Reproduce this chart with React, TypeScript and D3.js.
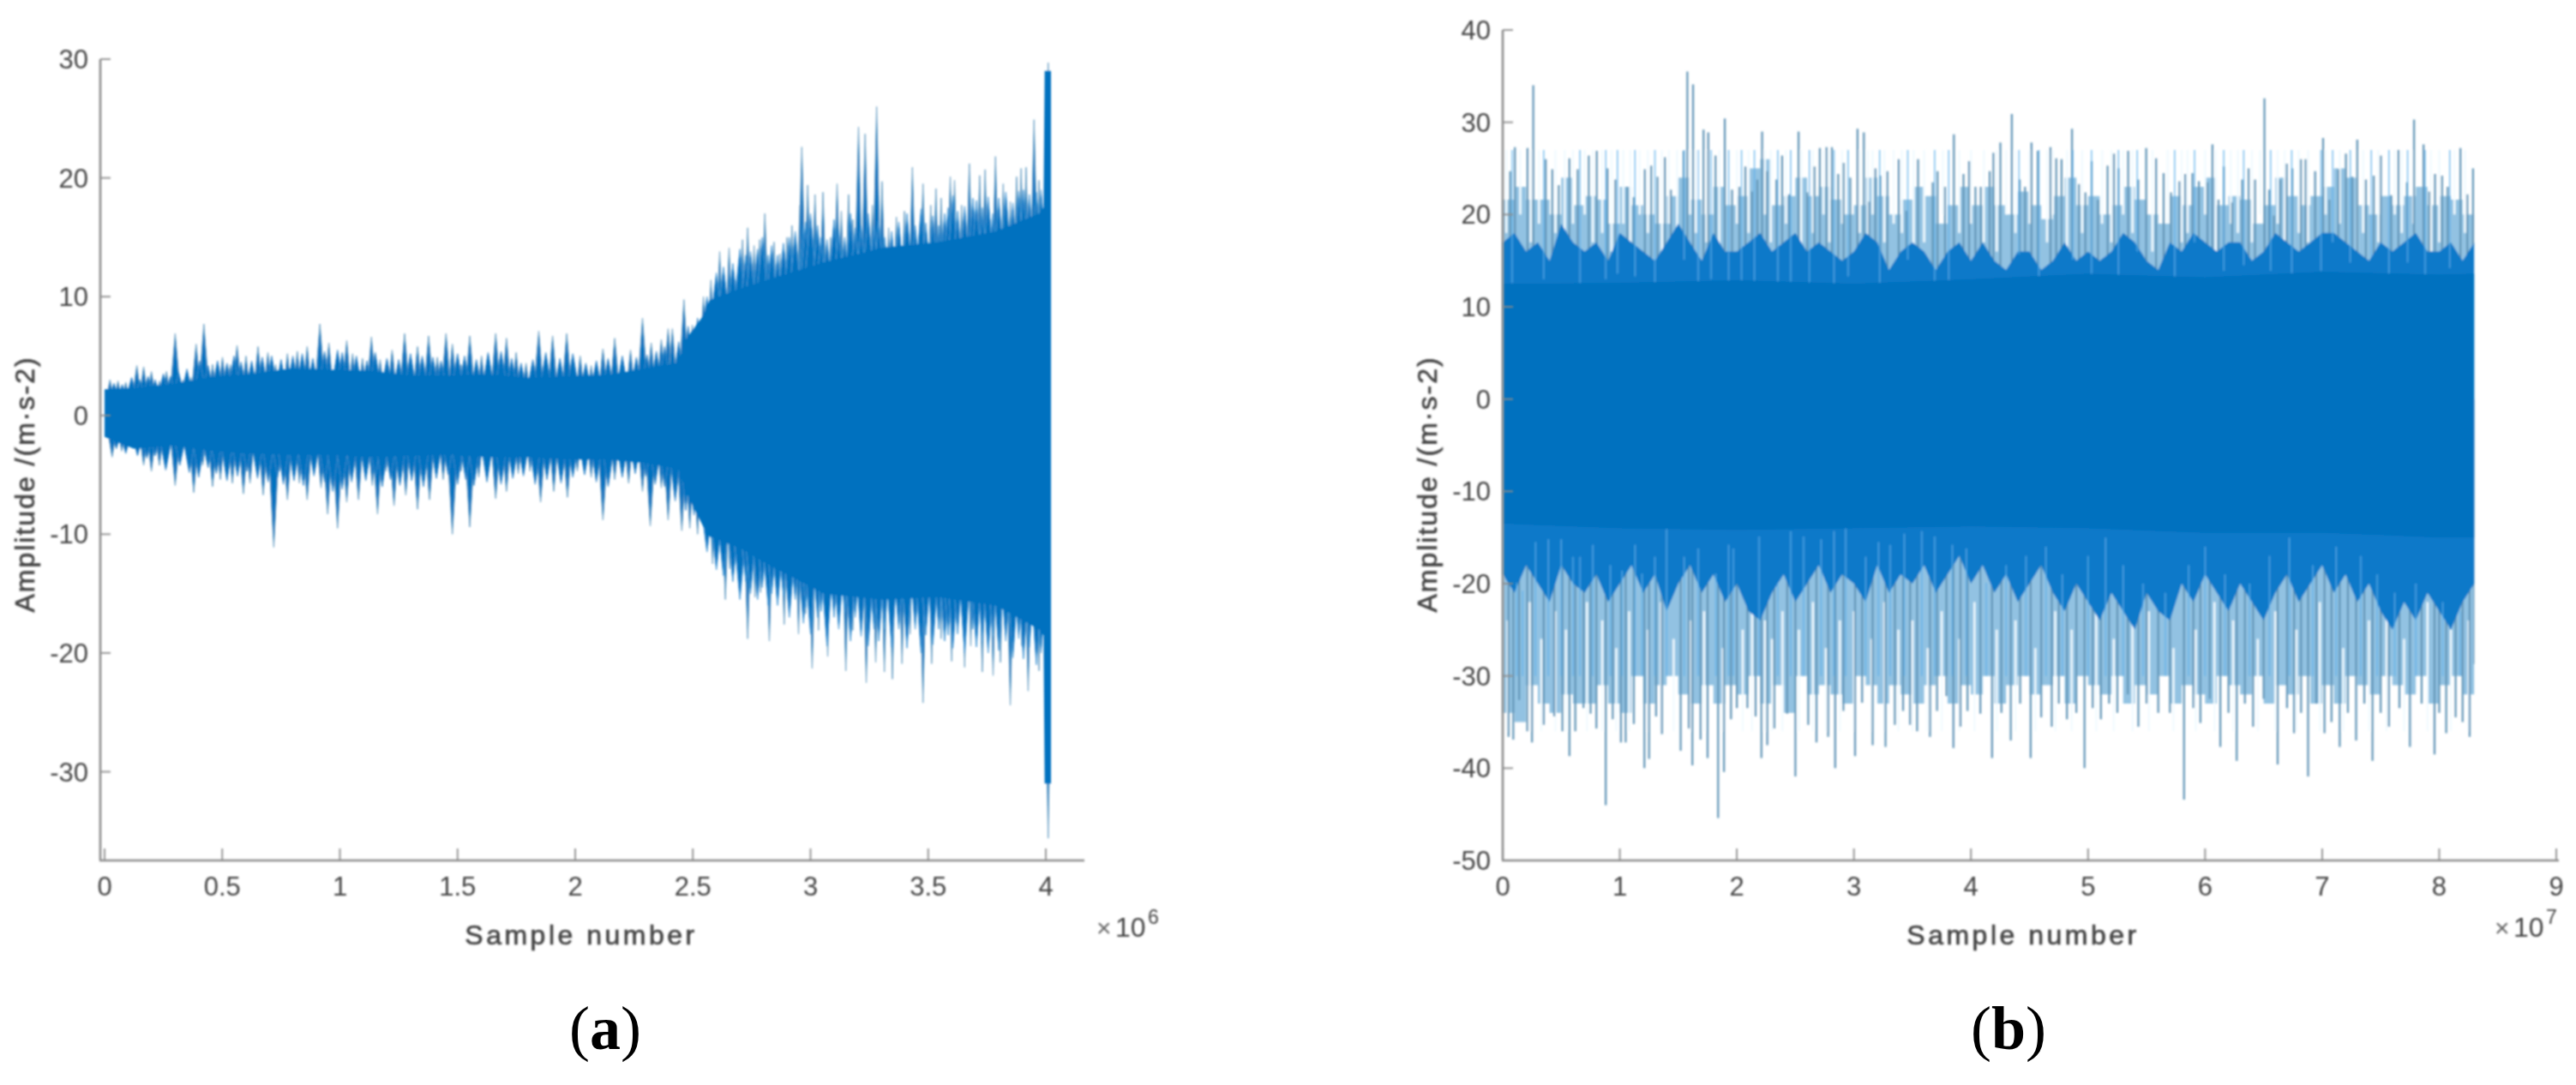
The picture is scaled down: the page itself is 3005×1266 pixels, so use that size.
import React from "react";
import * as d3 from "d3";

// ---------- Panel (a): sample number in units of 1e6, amplitude in m/s^2 ----------
const aXTicks = [0, 0.5, 1, 1.5, 2, 2.5, 3, 3.5, 4];
const aYTicks = [30, 20, 10, 0, -10, -20, -30];
const aDataEnd = 4.022;
const aCoreX = [0, 0.124, 0.291, 0.459, 0.627, 0.794, 0.962, 1.13, 1.297, 1.465, 1.63, 1.8, 1.97, 2.135, 2.3, 2.44, 2.47, 2.54, 2.571, 2.705, 2.815, 3.058, 3.302, 3.545, 3.788, 3.971, 3.99, 3.995, 4.022];
const aCoreHi = [2.2, 2.3, 2.65, 3.25, 3.5, 3.95, 3.85, 3.75, 3.35, 3.35, 3.45, 3.15, 3.3, 3.4, 3.95, 4.45, 6.4, 8.3, 9.7, 10.7, 11.4, 12.9, 14.1, 14.6, 15.5, 17, 17.5, 29, 29];
const aCoreLo = [-1.8, -2.8, -2.5, -3, -3.2, -3.3, -3.3, -3.5, -3.4, -3.3, -3.5, -3.5, -3.7, -3.7, -4, -4.5, -6.4, -9.2, -10.2, -11.2, -12.5, -15, -15.5, -15.3, -16, -18, -18.5, -31, -31];
const aTopX = [0.023, 0.057, 0.09, 0.137, 0.166, 0.199, 0.233, 0.263, 0.3, 0.333, 0.367, 0.389, 0.422, 0.459, 0.501, 0.534, 0.563, 0.601, 0.652, 0.694, 0.727, 0.777, 0.819, 0.861, 0.915, 0.953, 1.029, 1.054, 1.096, 1.134, 1.171, 1.222, 1.275, 1.33, 1.377, 1.414, 1.451, 1.478, 1.515, 1.552, 1.602, 1.662, 1.708, 1.749, 1.791, 1.845, 1.904, 1.964, 2.021, 2.068, 2.118, 2.168, 2.235, 2.286, 2.323, 2.366,
  2.395, 2.413, 2.462, 2.498, 2.545, 2.577, 2.614, 2.635, 2.654, 2.681, 2.711, 2.733, 2.76, 2.784, 2.806, 2.845, 2.87, 2.9, 2.921, 2.955, 2.963, 2.988, 3.019, 3.053, 3.085, 3.113, 3.131, 3.162, 3.18, 3.204, 3.232, 3.263, 3.281, 3.304, 3.332, 3.365, 3.399, 3.433, 3.46, 3.478, 3.511, 3.533, 3.555, 3.594, 3.612, 3.642, 3.675, 3.719, 3.742, 3.764, 3.786, 3.819, 3.849, 3.876, 3.895, 3.916, 3.95, 3.971, 4.01];
const aTopV = [3, 2.9, 2.8, 4.2, 4.1, 3.7, 2.9, 3.7, 6.9, 3, 3.2, 6, 7.7, 4.3, 4.9, 4.3, 5.9, 5, 5.8, 5.3, 4.3, 5.2, 5.4, 5.8, 7.7, 6.1, 6.3, 5.2, 4.8, 6.6, 4.7, 5.5, 6.9, 5.8, 6.7, 4.9, 6.9, 6, 4.3, 6.7, 5, 6.9, 6.5, 5.3, 4.4, 7.1, 6.7, 6.9, 5, 4.2, 5.6, 6.5, 5.5, 8.2, 6.1, 6.4,
  7.3, 7.3, 9.75, 7.6, 10, 11.4, 13.8, 11.6, 14.1, 11.4, 14.8, 15.8, 14.3, 14.8, 17, 14.6, 13.6, 15, 16, 17.7, 22.6, 19.4, 18.6, 18.8, 15, 19.5, 17.2, 18.6, 16.5, 24.3, 23.7, 17.7, 26, 19.7, 15.8, 16.7, 17.2, 20.9, 15, 19.5, 17.7, 19.1, 18.3, 20.1, 19.8, 17.7, 21.2, 20.2, 20.7, 16.5, 21.8, 19.5, 18, 20.1, 20.8, 20.9, 24.9, 19.8, 29.7];
const aBotX = [0.032, 0.073, 0.115, 0.166, 0.199, 0.233, 0.3, 0.35, 0.379, 0.417, 0.459, 0.492, 0.543, 0.59, 0.618, 0.674, 0.719, 0.744, 0.777, 0.828, 0.861, 0.92, 0.948, 0.99, 1.029, 1.079, 1.138, 1.16, 1.196, 1.23, 1.28, 1.33, 1.381, 1.439, 1.478, 1.515, 1.552, 1.59, 1.662, 1.708, 1.758, 1.808, 1.853, 1.909, 1.967, 2.009, 2.068, 2.118, 2.168, 2.227, 2.286, 2.319, 2.366, 2.395, 2.453, 2.487, 2.52,
  2.559, 2.584, 2.638, 2.657, 2.693, 2.733, 2.764, 2.788, 2.825, 2.861, 2.888, 2.912, 2.949, 2.979, 3.007, 3.034, 3.073, 3.107, 3.15, 3.18, 3.237, 3.277, 3.314, 3.348, 3.389, 3.423, 3.478, 3.515, 3.555, 3.6, 3.655, 3.681, 3.73, 3.776, 3.807, 3.849, 3.898, 3.925, 3.971, 4.01];
const aBotV = [-3.5, -3, -2.5, -4.2, -4.7, -4.2, -5.9, -3.5, -6.5, -4.2, -6, -5.4, -5.7, -6.6, -5.7, -6.7, -11.1, -4.7, -7.1, -5.7, -7.1, -6.1, -8.3, -9.5, -7.3, -7.1, -5.9, -8.3, -4.7, -7.6, -6.7, -7.9, -7.1, -5.4, -10, -4.7, -9.4, -5.2, -7, -6.4, -4.9, -4.7, -7.3, -6.4, -6.9, -4.7, -5.2, -8.8, -5.4, -5.7, -6.4, -9.3, -6.1, -8.8, -9.7, -9.5, -10,
  -11.2, -12.5, -15.5, -12.9, -12.4, -18.8, -15.3, -14.9, -19, -14.8, -17.6, -16.2, -18.4, -16.7, -21.3, -18.1, -20.3, -15.8, -21.5, -18.1, -22.5, -20.8, -21.6, -22.2, -20.9, -18.4, -24.2, -20.9, -18.8, -20.7, -21.2, -19.4, -21.6, -21.9, -20.8, -24.4, -19.4, -23.2, -21.5, -35.6];
// shorter in-between teeth of the waveform's envelope
const aTop2X = [0.04, 0.075, 0.115, 0.15, 0.185, 0.215, 0.25, 0.28, 0.315, 0.35, 0.405, 0.44, 0.48, 0.52, 0.55, 0.58, 0.625, 0.67, 0.71, 0.75, 0.8, 0.84, 0.885, 0.935, 0.99, 1.01, 1.07, 1.115, 1.15, 1.2, 1.25, 1.3, 1.35, 1.395, 1.43, 1.5, 1.53, 1.58, 1.63, 1.685, 1.73, 1.77, 1.82, 1.875, 1.935, 1.99, 2.045, 2.09, 2.14, 2.2, 2.26, 2.305, 2.345, 2.38, 2.44, 2.48, 2.52];
const aTop2V = [2.7, 2.6, 3.2, 3, 3.3, 3, 3.5, 3.3, 3.6, 3.9, 4.6, 4.2, 4.6, 4.4, 5, 4.5, 4.6, 4.9, 5, 4.7, 5, 5.2, 4.8, 5.4, 5.5, 5.3, 5, 4.6, 5.3, 4.8, 4.7, 5.2, 5, 4.9, 4.6, 5.2, 5, 4.7, 5.3, 5.4, 4.8, 4.4, 4.7, 5.3, 4.8, 5.2, 4.4, 4.6, 4.8, 5, 4.9, 5.1, 5.4, 5.8, 6.2, 7.5, 8.2];
const aBot2X = [0.05, 0.09, 0.14, 0.18, 0.215, 0.26, 0.32, 0.36, 0.4, 0.44, 0.475, 0.52, 0.565, 0.605, 0.65, 0.695, 0.735, 0.76, 0.805, 0.845, 0.89, 0.935, 0.97, 1.01, 1.05, 1.11, 1.15, 1.18, 1.215, 1.255, 1.305, 1.355, 1.41, 1.46, 1.5, 1.535, 1.57, 1.625, 1.685, 1.735, 1.78, 1.83, 1.88, 1.94, 1.99, 2.04, 2.09, 2.14, 2.2, 2.255, 2.3, 2.34, 2.38, 2.425, 2.47, 2.505, 2.54];
const aBot2V = [-2.8, -3.2, -3.4, -3.6, -3.4, -4.6, -4.2, -4.8, -5.2, -4.4, -4.9, -5.5, -5.1, -4.7, -5.3, -5.6, -5.2, -5.8, -5.5, -5.9, -5.1, -5.6, -6.4, -6.2, -5.6, -5.5, -5.2, -6, -5.4, -5.9, -5.5, -6, -5.3, -5, -5.8, -5.4, -5.9, -5.6, -5.8, -5.3, -5.1, -5.8, -5.4, -5.7, -5.2, -5, -5.6, -6, -5.2, -4.9, -5.1, -5.8, -6, -7.2, -8, -8.4, -8.8];
const aEdgeX = [2.56, 2.6, 2.63, 2.67, 2.7, 2.725, 2.745, 2.775, 2.795, 2.82, 2.835, 2.86, 2.885, 2.91, 2.935, 2.97, 2.98, 3, 3.03, 3.045, 3.07, 3.1, 3.12, 3.145, 3.17, 3.19, 3.215, 3.245, 3.27, 3.29, 3.315, 3.345, 3.375, 3.41, 3.445, 3.47, 3.49, 3.52, 3.545, 3.57, 3.585, 3.605, 3.625, 3.655, 3.69, 3.705, 3.73, 3.755, 3.775, 3.8, 3.83, 3.86, 3.885, 3.905, 3.93, 3.96, 3.98];
const aEdgeTop = [10, 12, 12.5, 12.8, 14, 13.5, 13.8, 14, 15, 13.5, 14.3, 13.5, 14.5, 15, 15.5, 16, 16.3, 17, 16, 15, 14.8, 16.5, 15.6, 15, 17, 15.8, 16, 17, 16, 16.4, 15, 15.5, 16.3, 17, 16, 17.4, 16.2, 16.8, 16, 17, 17.5, 18.5, 17.2, 17.6, 18.3, 18.1, 17.5, 18.4, 17, 18.3, 18.8, 17.9, 18.9, 19, 18.6, 18.8, 19];
const aEdgeBot = [-11.5, -13, -13.5, -14, -15.5, -14, -15, -15.5, -14.5, -16, -15, -16, -15.2, -17, -15.5, -17.5, -16.2, -18.4, -17, -16.5, -19.4, -17, -18, -16.6, -19, -17, -18.6, -19.4, -18, -19, -18, -19.5, -18, -19.6, -18, -20, -18.5, -19.3, -18, -19, -18.5, -19.6, -18.4, -20, -18, -19.5, -19, -20, -18.6, -19.8, -19, -20.4, -18.8, -20.5, -19.5, -21, -20];

// ---------- Panel (b): sample number in units of 1e7, amplitude in m/s^2 ----------
const bXTicks = [0, 1, 2, 3, 4, 5, 6, 7, 8, 9];
const bYTicks = [40, 30, 20, 10, 0, -10, -20, -30, -40, -50];
const bDataEnd = 8.3;
const bCoreX = [0, 1, 2, 3, 4, 5, 6, 7, 8, 8.3];
const bCoreHi = [12.5, 12.6, 12.9, 12.5, 13, 13.6, 13.2, 13.8, 13.5, 13.6];
const bCoreLo = [-13.5, -14, -14.2, -14, -13.8, -14, -14.5, -14.5, -15, -15];
const bBandX = d3.range(84).map((i) => i / 10);
const bMidHi = [17, 18, 16, 17, 15, 19, 17, 16, 17, 15, 18, 17, 16, 15, 17, 19, 17, 15, 18, 16, 16, 17, 18, 16, 17, 18, 16, 17, 16, 15, 16, 18, 17, 14, 16, 17, 16, 14, 16, 17, 15, 17, 15, 14, 16, 16, 14, 15, 17, 15, 16, 15, 16, 18, 17, 15, 14, 17, 16, 18, 17, 16, 17, 17, 15, 16, 18, 17, 16, 17, 18, 18, 17, 16, 15, 17, 16, 17, 18, 16, 16, 17, 15, 17];
const bMidLo = [-19, -21, -18, -20, -22, -18, -20, -21, -19, -22, -20, -18, -21, -19, -23, -20, -18, -21, -19, -22, -20, -23, -24, -21, -19, -22, -20, -18, -21, -19, -20, -22, -18, -21, -19, -20, -18, -21, -19, -17, -20, -18, -21, -19, -22, -20, -18, -21, -23, -20, -22, -24, -21, -23, -25, -21, -23, -24, -20, -22, -19, -21, -23, -20, -22, -24, -21, -19, -22, -20, -18, -21, -19, -22, -20, -23, -25, -22, -24, -21, -23, -25, -22, -20];
const bLightHi = [21.6, 23, 21.6, 21.6, 20, 24, 21, 22, 21.6, 19, 23, 21, 20, 19, 22, 24, 21.6, 20, 23, 21, 22, 25, 26, 21, 22, 24, 22, 23, 21.6, 20, 21, 24, 22, 20, 21.6, 23, 22, 19, 21, 23, 21, 23, 21, 20, 22.5, 21, 19.5, 22, 24, 21, 22, 20, 21, 23, 21.6, 20, 19, 22, 21, 23, 24, 21, 22, 21.6, 19, 21, 24, 22, 21, 22, 23, 25, 24, 21, 20, 22, 21, 22, 23, 21, 22, 21.6, 20, 21.6];
const bLightLo = [-34, -35, -31, -33, -34, -32, -33, -33, -31, -33, -34, -30, -33, -31, -30, -32, -33, -31, -33, -31, -32, -30, -33, -31, -34, -30, -32, -31, -32, -33, -30, -31, -33, -31, -32, -33, -31, -30, -33, -31, -32, -30, -33, -31, -30, -32, -31, -30, -33, -30, -31, -32, -30, -33, -31, -32, -30, -33, -31, -32, -33, -30, -31, -32, -30, -33, -31, -32, -30, -33, -31, -33, -30, -31, -32, -30, -31, -32, -30, -33, -31, -30, -32, -31];
const bTopX = [0.063, 0.104, 0.212, 0.261, 0.367, 0.424, 0.478, 0.57, 0.64, 0.735, 0.803, 0.895, 0.962, 1.065, 1.119, 1.214, 1.268, 1.322, 1.385, 1.436, 1.545, 1.577, 1.626, 1.715, 1.756, 1.818, 1.897, 1.959, 2.021, 2.073, 2.129, 2.175, 2.216, 2.257, 2.338, 2.387, 2.446, 2.527, 2.601, 2.663, 2.709, 2.766, 2.812, 2.866, 2.912, 2.969, 3.031, 3.085, 3.131, 3.183, 3.226, 3.286, 3.383, 3.448, 3.548, 3.673, 3.714, 3.778, 3.854, 3.936, 3.984, 4.038, 4.084, 4.16,
  4.192, 4.251, 4.349, 4.416, 4.462, 4.517, 4.571, 4.679, 4.728, 4.774, 4.863, 4.923, 4.977, 5.031, 5.085, 5.167, 5.221, 5.261, 5.343, 5.429, 5.497, 5.581, 5.646, 5.708, 5.781, 5.83, 5.892, 5.947, 6.02, 6.063, 6.114, 6.16, 6.231, 6.317, 6.372, 6.426, 6.507, 6.548, 6.588, 6.642, 6.697, 6.745, 6.818, 6.859, 6.94, 7.008, 7.062, 7.138, 7.203, 7.257, 7.3, 7.373, 7.441, 7.501, 7.59, 7.652, 7.725, 7.785, 7.866, 7.915, 7.964, 8.024, 8.072, 8.181, 8.24, 8.289];
const bTopV = [24.7, 27.3, 27.2, 34, 26, 24.9, 23.2, 26.1, 24.9, 26.4, 26.9, 25, 23.8, 23, 21.9, 24.9, 25.3, 24.1, 26.2, 22.7, 26.9, 35.5, 34.1, 29.2, 28.9, 26.4, 30.4, 22.7, 23, 25.2, 22.5, 23.8, 29, 24.7, 23.8, 26.4, 22.2, 29, 22.4, 25.2, 27.2, 27.3, 27.3, 24.4, 25.6, 24, 29.3, 28.9, 21.4, 25, 24.2, 24.7, 26, 20.4, 26, 23.5, 24.7, 23, 28.7, 24.4, 25.8, 23, 23, 24.7,
  26.7, 27.8, 30.9, 23.8, 23, 27.8, 26.9, 27.3, 26.1, 26, 29.3, 23.3, 22.4, 25.8, 21.6, 25.3, 26.6, 25, 26.9, 23.8, 27.2, 26.1, 24.5, 22.4, 23.6, 24.4, 24.5, 23.6, 23.5, 27.6, 21.6, 25.2, 21.3, 23.8, 25, 23.8, 32.6, 22.7, 19.9, 23.8, 25.5, 25, 26, 26, 24.7, 28.3, 21.6, 24.9, 26.6, 24.1, 28.1, 23.8, 24.2, 26.4, 22.1, 27, 23.5, 30.3, 27.6, 22.5, 24.4, 24.2, 23, 27.2, 22.2, 25];
const bBotX = [0.05, 0.09, 0.14, 0.21, 0.25, 0.35, 0.44, 0.51, 0.57, 0.62, 0.69, 0.75, 0.8, 0.88, 0.94, 1.01, 1.05, 1.12, 1.21, 1.25, 1.31, 1.36, 1.52, 1.59, 1.62, 1.69, 1.75, 1.84, 1.89, 1.95, 2, 2.09, 2.16, 2.21, 2.26, 2.32, 2.43, 2.5, 2.61, 2.68, 2.78, 2.84, 2.91, 3.01, 3.07, 3.16, 3.27, 3.35, 3.42, 3.48, 3.54, 3.65, 3.71, 3.79, 3.85, 3.91, 3.97, 4.08,
  4.18, 4.34, 4.51, 4.69, 4.82, 4.97, 5.11, 5.25, 5.43, 5.6, 5.82, 5.96, 6.13, 6.27, 6.41, 6.62, 6.76, 6.88, 7.02, 7.15, 7.29, 7.43, 7.57, 7.75, 7.96, 8.06, 8.26, 8.3,
  4.26, 4.42, 4.6, 4.75, 4.9, 5.04, 5.18, 5.34, 5.5, 5.7, 5.9, 6.04, 6.2, 6.34, 6.5, 6.7, 6.82, 6.95, 7.08, 7.22, 7.36, 7.5, 7.66, 7.85, 8, 8.14, 8.2];
const bBotV = [-36.6, -36.9, -32.6, -36, -37.2, -35.3, -34.4, -36, -38.7, -36, -33.5, -34.1, -35.7, -44, -34.7, -37.2, -37.2, -35.2, -40, -39, -34.4, -36.3, -38.1, -35.7, -39.7, -36.9, -38.9, -45.4, -40.4, -34.7, -33.5, -33.5, -34.4, -38.9, -37.5, -35.7, -34.1, -40.9, -35.3, -37.2, -36.6, -40, -33.8, -38.7, -32.9, -37.5, -37.7, -35.3, -33.8, -35.3, -36, -36.6, -33.8, -32.2, -37.8, -35.5, -33.8, -34.1,
  -38.9, -37, -38.9, -35.5, -34.7, -40, -34.7, -34, -35.5, -34, -43.4, -35.1, -37.7, -39.2, -35.5, -39.6, -36.2, -40.9, -36.2, -37.7, -37, -39.2, -35.5, -37.7, -38.5, -36.2, -36.6, -28.7,
  -34, -33, -34.5, -33, -34, -33.5, -33, -32, -33, -34, -33.5, -32.5, -34, -33, -32.5, -33.5, -34, -33, -35, -34, -33, -34, -33.5, -33, -34, -34.5, -35];
const bGapLowX = [0.12, 0.17, 0.28, 0.39, 0.5, 0.6, 0.66, 0.77, 0.92, 1.02, 1.13, 1.19, 1.3, 1.4, 1.55, 1.67, 1.82, 1.93, 1.97, 2.19, 2.35, 2.46, 2.57, 2.72, 2.83, 2.93, 3.1, 3.21, 3.31, 3.43, 3.58, 3.69, 3.84, 3.96, 4.13, 4.3, 4.47, 4.64, 4.78, 5, 5.15, 5.3, 5.47, 5.66, 5.86, 6, 6.17, 6.38, 6.55, 6.72, 6.92, 7.12, 7.33, 7.47, 7.62, 7.8, 8.03, 8.18];
const bGapLowV = [-19.9, -20.8, -15.5, -15.2, -15.2, -17.1, -17.1, -15.8, -18, -18.6, -15.8, -18.9, -17.1, -13.7, -17.1, -16.2, -18.9, -15.8, -16.2, -14.9, -19.9, -14.3, -14.9, -15.2, -14.3, -14, -17.1, -15.5, -15.8, -14.6, -14.3, -14.9, -15.8, -16.2, -19.9, -18, -17, -16, -19, -17, -15, -18, -20, -21, -18, -16, -19, -20, -17, -15, -18, -16, -17, -19, -21, -20, -22, -23];
const bGapLow2X = [0.04, 0.23, 0.33, 0.45, 0.54, 0.72, 0.85, 0.97, 1.08, 1.24, 1.35, 1.46, 1.6, 1.72, 1.88, 2.05, 2.13, 2.24, 2.3, 2.39, 2.53, 2.65, 2.76, 2.88, 3, 3.15, 3.26, 3.38, 3.5, 3.63, 3.75, 3.9, 4.03, 4.22, 4.38, 4.55, 4.72, 4.86, 5.07, 5.22, 5.38, 5.52, 5.73, 5.92, 6.08, 6.24, 6.45, 6.6, 6.78, 6.98, 7.18, 7.4, 7.55, 7.7, 7.9, 8.1, 8.25];
const bGapLow2V = [-24, -22, -26, -23, -25, -22, -24, -27, -23, -25, -22, -26, -24, -23, -27, -25, -22, -24, -26, -23, -25, -22, -27, -24, -23, -26, -22, -25, -24, -27, -23, -26, -22, -25, -24, -27, -23, -25, -22, -26, -24, -23, -27, -25, -22, -24, -26, -23, -25, -22, -27, -24, -23, -26, -22, -25, -24];
const bGapHighX = [0.08, 0.35, 0.66, 0.88, 0.98, 1.13, 1.3, 1.55, 1.67, 1.78, 1.93, 2.04, 2.15, 2.35, 2.46, 2.62, 2.83, 2.95, 3.22, 3.46, 3.69, 3.81, 4.41, 4.58, 4.87, 5.03, 5.26, 5.42, 5.74, 5.91, 6.16, 6.33, 6.56, 6.74, 6.99, 7.09, 7.24, 7.42, 7.57, 7.73, 7.88, 8.09];
const bGapHighV = [12.6, 13, 12.6, 13, 13.6, 13.3, 12.6, 15.1, 10.5, 13, 11.4, 10.8, 10.8, 11.1, 12, 12.6, 11.4, 13.3, 12.6, 15.1, 12.6, 12.6, 15.7, 10.5, 15.1, 13, 13.3, 16, 13.3, 17, 13.9, 14.5, 13.9, 12.6, 13.9, 17, 14.8, 15.4, 12.6, 14.8, 12.6, 14.2];
const bGapHigh2X = [0.03, 0.15, 0.24, 0.31, 0.45, 0.53, 0.6, 0.7, 0.77, 0.85, 0.93, 1.03, 1.09, 1.17, 1.24, 1.36, 1.42, 1.49, 1.6, 1.65, 1.74, 1.85, 2, 2.1, 2.24, 2.29, 2.42, 2.55, 2.65, 2.74, 2.79, 2.9, 3.05, 3.12, 3.16, 3.26, 3.34, 3.41, 3.51, 3.6, 3.76, 3.9, 4, 4.11, 4.22, 4.3, 4.38, 4.5, 4.65, 4.7, 4.82, 4.95, 5.12, 5.2, 5.3, 5.38, 5.55, 5.68, 5.8, 5.85, 6, 6.09, 6.22, 6.28, 6.4, 6.47, 6.62, 6.68, 6.8, 6.88, 7.03, 7.15, 7.3, 7.35, 7.48, 7.62, 7.68, 7.78, 7.93, 8, 8.13, 8.22];
const bGapHigh2V = [18, 20, 17, 19, 18, 16, 19, 20, 17, 18, 16, 19, 17, 20, 18, 16, 19, 17, 20, 18, 17, 16, 19, 18, 20, 17, 19, 16, 18, 20, 17, 19, 18, 16, 20, 17, 19, 18, 16, 17, 20, 18, 19, 17, 16, 20, 18, 19, 17, 20, 16, 18, 19, 17, 20, 18, 16, 19, 17, 18, 20, 16, 19, 18, 17, 20, 19, 16, 18, 17, 20, 19, 16, 18, 17, 20, 18, 19, 16, 17, 20, 18];

const BLUE = "#0071BF";
const AXIS = "#8c8c8c";
const TEXT = "#444444";
const SANS = "'Liberation Sans', Arial, sans-serif";

type AreaPt = { x: number; hi: number; lo: number };
const band = (xs: number[], hi: number[], lo: number[]): AreaPt[] => xs.map((x, i) => ({ x, hi: hi[i], lo: lo[i] }));
const fmt = (v: number) => String(v);

function Axes({ x, y, xTicks, yTicks, left, right, top, bottom, unitX, label, labelY, labelX, exp }: any) {
  return (
    <g fontFamily={SANS} fill={TEXT} filter="url(#soft)">
      <line x1={left} x2={left} y1={top} y2={bottom} stroke={AXIS} strokeWidth={2.6} />
      <line x1={left - 1} x2={right} y1={bottom} y2={bottom} stroke={AXIS} strokeWidth={2.6} />
      {xTicks.map((t: number) => (
        <g key={t}>
          <line x1={x(t)} x2={x(t)} y1={bottom} y2={bottom - 14} stroke={AXIS} strokeWidth={1.8} />
          <text x={x(t)} y={1045} fontSize={31} textAnchor="middle">{fmt(t)}</text>
        </g>
      ))}
      {yTicks.map((t: number) => (
        <g key={t}>
          <line x1={left} x2={left + 12} y1={y(t)} y2={y(t)} stroke={AXIS} strokeWidth={1.8} />
          <text x={left - 14} y={y(t) + 11} fontSize={31} textAnchor="end">{fmt(t)}</text>
        </g>
      ))}
      <text x={labelX} y={1102} fontSize={32} textAnchor="middle" letterSpacing={3.5} stroke={TEXT} strokeWidth={0.7}>Sample number</text>
      <text transform={`translate(${label},${labelY}) rotate(-90)`} fontSize={32} textAnchor="middle" letterSpacing={2} stroke={TEXT} strokeWidth={0.7}>Amplitude /(m·s-2)</text>
      <text x={unitX} y={1093} fontSize={30} fill="#666">×</text>
      <text x={unitX + 22} y={1093} fontSize={32}>10</text>
      <text x={unitX + 60} y={1078} fontSize={23}>{exp}</text>
    </g>
  );
}

function PanelA() {
  const x = d3.scaleLinear().domain([0, 4]).range([122, 1220]);
  const y = d3.scaleLinear().domain([30, -30]).range([69, 900.5]);
  const area = d3.area<AreaPt>().x((d) => x(d.x)).y0((d) => y(d.lo)).y1((d) => y(d.hi));
  const tooth = d3.line<[number, number]>().x((d) => x(d[0])).y((d) => y(d[1]));
  const teeth = (xs: number[], vs: number[], halfBase: number, stroke: string) =>
    xs.map((px, i) => (
      <path key={i} d={tooth([[px - halfBase, 0], [px, vs[i]], [px + halfBase, 0]]) as string} fill={BLUE} stroke={stroke} strokeWidth={1} />
    ));
  return (
    <g>
      <clipPath id="clipA">
        <rect x={x(0)} y={0} width={x(aDataEnd) - x(0)} height={1004} />
      </clipPath>
      <g filter="url(#soft)">
        <g clipPath="url(#clipA)">
          {teeth(aTopX, aTopV, 0.03, "#6a9fc4")}
          {teeth(aBotX, aBotV, 0.03, "#6a9fc4")}
          {teeth(aEdgeX, aEdgeTop, 0.075, "#4d9cd8")}
          {teeth(aEdgeX, aEdgeBot, 0.075, "#4d9cd8")}
          {teeth(aTop2X, aTop2V, 0.045, "#3b8acb")}
          {teeth(aBot2X, aBot2V, 0.045, "#3b8acb")}
          <path d={area(band(aCoreX, aCoreHi, aCoreLo)) as string} fill={BLUE} />
        </g>
      </g>
      <Axes x={x} y={y} xTicks={aXTicks} yTicks={aYTicks} left={117} right={1265} top={69} bottom={1004} unitX={1279} label={40} labelY={565} labelX={678} exp="6" />
      <text x={706} y={1224} fontSize={72} textAnchor="middle" fontFamily="'Liberation Serif', serif" fill="#000">(<tspan fontWeight="bold">a</tspan>)</text>
    </g>
  );
}

function PanelB() {
  const x = d3.scaleLinear().domain([0, 9]).range([1753, 2982]);
  const y = d3.scaleLinear().domain([40, -50]).range([35, 1004]);
  const area = d3.area<AreaPt>().x((d) => x(d.x)).y0((d) => y(d.lo)).y1((d) => y(d.hi));
  const stepArea = d3.area<AreaPt>().x((d) => x(d.x)).y0((d) => y(d.lo)).y1((d) => y(d.hi)).curve(d3.curveStepAfter);
  const stripeTop = 27;
  const stripeBottom = -36;
  const gaps = (xs: number[], vs: number[], end: number, color: string, width: number) =>
    xs.map((v, i) => <line key={i} x1={x(v)} x2={x(v)} y1={y(vs[i])} y2={y(end)} stroke={color} strokeWidth={width} />);
  const spikes = (xs: number[], vs: number[]) =>
    xs.map((v, i) => <line key={i} x1={x(v)} x2={x(v)} y1={y(0)} y2={y(vs[i])} stroke="#5f93b5" strokeWidth={2.2} />);
  return (
    <g>
      <clipPath id="clipB">
        <rect x={x(0)} y={0} width={x(bDataEnd) - x(0)} height={1004} />
      </clipPath>
      <g filter="url(#soft)">
        <g clipPath="url(#clipB)">
          <path d={stepArea(band(bBandX, bLightHi, bLightLo)) as string} fill="#92c2e2" />
          {gaps(bGapHigh2X, bGapHigh2V, stripeTop, "#f2fbff", 2.6)}
          {gaps(bGapLow2X, bGapLow2V, stripeBottom, "#f2fbff", 2.4)}
          {spikes(bTopX, bTopV)}
          {spikes(bBotX, bBotV)}
          <path d={area(band(bBandX, bMidHi, bMidLo)) as string} fill="#0f79c9" />
          {bGapHighX.map((v, i) => (
            <line key={i} x1={x(v)} x2={x(v)} y1={y(bGapHighV[i])} y2={y(stripeTop)} stroke="#58aeea" strokeOpacity={0.8} strokeWidth={1.5} />
          ))}
          {bGapLowX.map((v, i) => (
            <line key={i} x1={x(v)} x2={x(v)} y1={y(bGapLowV[i])} y2={y(stripeBottom + 6)} stroke="#58aeea" strokeOpacity={0.8} strokeWidth={1.5} />
          ))}
          <path d={area(band(bCoreX, bCoreHi, bCoreLo)) as string} fill={BLUE} />
        </g>
      </g>
      <Axes x={x} y={y} xTicks={bXTicks} yTicks={bYTicks} left={1753} right={2985} top={35} bottom={1004} unitX={2910} label={1676} labelY={565} labelX={2360} exp="7" />
      <text x={2343} y={1224} fontSize={72} textAnchor="middle" fontFamily="'Liberation Serif', serif" fill="#000">(<tspan fontWeight="bold">b</tspan>)</text>
    </g>
  );
}

export default function App() {
  return (
    <svg width={3005} height={1266} viewBox="0 0 3005 1266" style={{ position: "absolute", left: 0, top: 0, display: "block", background: "#fff" }}>
      <defs>
        <filter id="soft" x="-5%" y="-5%" width="110%" height="110%">
          <feGaussianBlur stdDeviation={0.8} />
        </filter>
      </defs>
      <PanelA />
      <PanelB />
    </svg>
  );
}
